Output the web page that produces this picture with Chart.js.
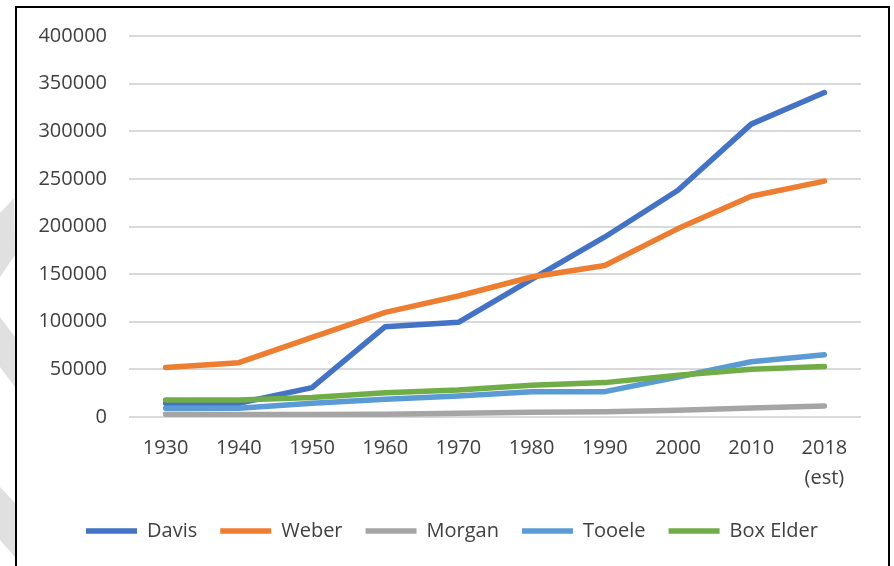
<!DOCTYPE html>
<html>
<head>
<meta charset="utf-8">
<title>County population, 1930–2018</title>
<script src="https://cdn.jsdelivr.net/npm/chart.js@4/dist/chart.umd.min.js"></script>
<style>
  html, body { margin: 0; padding: 0; background: #ffffff; }
  canvas { display: block; }
</style>
</head>
<body>
<canvas id="chart" width="894" height="566"></canvas>
<script>
// Census years (last one is an estimate)
const years = ['1930', '1940', '1950', '1960', '1970', '1980', '1990', '2000', '2010', ['2018', '(est)']];

// Population by county
const davis    = [14500, 14500, 30900, 94800, 99400, 144500, 189000, 238000, 307500, 340700];
const weber    = [52000, 57000, 83600, 109900, 127000, 147000, 159000, 197800, 231800, 247600];
const morgan   = [2800, 2700, 2600, 2900, 3900, 5000, 5600, 7200, 9400, 11600];
const tooele   = [9200, 9200, 14400, 18600, 22000, 26600, 26600, 42000, 58000, 65300];
const boxElder = [17900, 17900, 20500, 25500, 28400, 33400, 36100, 43800, 50200, 53000];

const seriesNames  = ['Davis', 'Weber', 'Morgan', 'Tooele', 'Box Elder'];
const seriesData   = [davis, weber, morgan, tooele, boxElder];
const seriesColors = ['#4472C4', '#ED7D31', '#A5A5A5', '#5B9BD5', '#70AD47'];

// Y axis ticks
const yMin = 0, yMax = 400000, yStep = 50000;

const FONT = '"Open Sans", "Liberation Sans", sans-serif';
const TEXT = '#404040';

// Frame around the chart plus the grey chevrons in the left margin
const framePlugin = {
  id: 'frame',
  beforeDraw(chart) {
    const ctx = chart.ctx;
    ctx.save();
    ctx.fillStyle = '#ffffff';
    ctx.fillRect(0, 0, chart.width, chart.height);
    ctx.fillStyle = '#e0e0e0';
    const shapes = [
      [[0, 213], [14, 198], [15, 255], [0, 277]],
      [[0, 317], [15, 337], [15, 387], [0, 367]],
      [[0, 487], [15, 503], [15, 557], [0, 540]]
    ];
    shapes.forEach(pts => {
      ctx.beginPath();
      ctx.moveTo(pts[0][0], pts[0][1]);
      for (let i = 1; i < pts.length; i++) ctx.lineTo(pts[i][0], pts[i][1]);
      ctx.closePath();
      ctx.fill();
    });
    ctx.strokeStyle = '#000000';
    ctx.lineWidth = 2;
    ctx.strokeRect(16, 7, 873, 600);
    ctx.restore();
  }
};

const datasets = seriesNames.map((name, i) => ({
  label: name,
  data: seriesData[i],
  borderColor: seriesColors[i],
  backgroundColor: seriesColors[i],
  borderWidth: 5.5,
  borderCapStyle: 'round',
  borderJoinStyle: 'round',
  pointRadius: 0,
  pointHoverRadius: 0,
  tension: 0,
  fill: false,
  pointStyle: 'line',
  order: seriesNames.length - i   // later series drawn on top
}));

new Chart(document.getElementById('chart'), {
  type: 'line',
  data: { labels: years, datasets },
  options: {
    responsive: false,
    animation: false,
    events: [],
    layout: { padding: { left: 16, right: 6, top: 36, bottom: 15 } },
    plugins: {
      legend: {
        position: 'bottom',
        align: 'center',
        labels: {
          usePointStyle: true,
          pointStyleWidth: 51,
          padding: 23,
          color: TEXT,
          font: { family: FONT, size: 20 },
          sort: (a, b) => a.datasetIndex - b.datasetIndex
        }
      },
      tooltip: { enabled: false }
    },
    scales: {
      x: {
        offset: true,
        grid: { display: false, drawTicks: false },
        border: { display: false },
        ticks: {
          color: TEXT,
          padding: 16,
          maxRotation: 0,
          autoSkip: false,
          font: { family: FONT, size: 20, lineHeight: 1.5 }
        },
        afterFit(scale) { scale.height = 81; }
      },
      y: {
        min: yMin,
        max: yMax,
        grid: { color: '#d9d9d9', lineWidth: 2, drawTicks: false },
        border: { display: false },
        ticks: {
          stepSize: yStep,
          color: TEXT,
          padding: 22,
          font: { family: FONT, size: 20 },
          callback: v => String(v)
        },
        afterFit(scale) { scale.width = 113; }
      },
      yRight: {
        position: 'right',
        display: true,
        grid: { display: false, drawTicks: false },
        border: { display: false },
        ticks: { display: false },
        afterFit(scale) { scale.width = 27; }
      }
    }
  },
  plugins: [framePlugin]
});
</script>
</body>
</html>
